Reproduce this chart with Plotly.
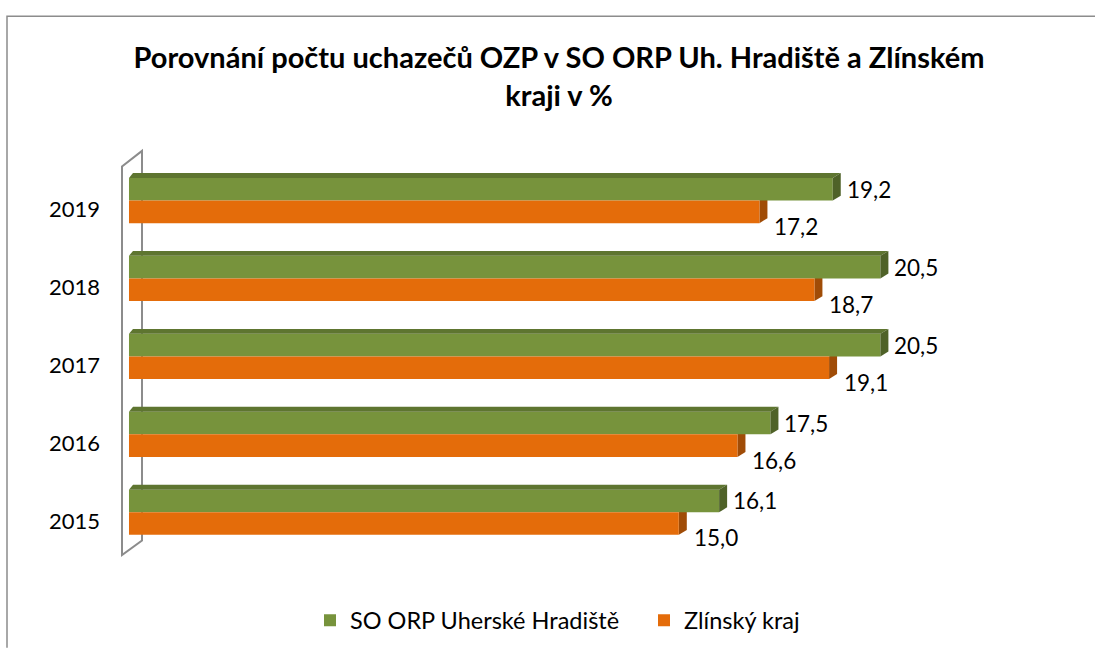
import plotly.graph_objects as go

# ---- data ----
years = ["2015", "2016", "2017", "2018", "2019"]
uh_values = [16.1, 17.5, 20.5, 20.5, 19.2]        # SO ORP Uherské Hradiště
zlin_values = [15.0, 16.6, 19.1, 18.7, 17.2]      # Zlínský kraj
series_names = ["SO ORP Uherské Hradiště", "Zlínský kraj"]
title_text = "Porovnání počtu uchazečů OZP v SO ORP Uh. Hradiště a Zlínském<br>kraji v %"

def fmt(v):
    return f"{v:.1f}".replace(".", ",")

# ---- layout geometry ----
W, H = 1095, 655
L, R, T, B = 107, 35, 146, 86
XR = [-0.6, 25.4]
YR = [-0.6, 4.7]
PW, PH = W - L - R, H - T - B
xpx = PW / (XR[1] - XR[0])
ypx = PH / (YR[1] - YR[0])

def px2paper_x(px):
    return (px - L) / PW

def px2paper_y(py):
    return (H - B - py) / PH

GREEN = "#77933C"
GREEN_TOP = "#5E7530"
GREEN_SIDE = "#4F6228"
ORANGE = "#E46C0A"
ORANGE_SIDE = "#A04C07"

bw = 0.29           # bar thickness (y units)
dx = 8 / xpx        # 3D depth in x units
dy = 5 / ypx        # 3D depth in y units
pos = list(range(len(years)))

fig = go.Figure()
fig.add_trace(go.Bar(
    y=pos, x=uh_values, orientation="h", name=series_names[0],
    marker=dict(color=GREEN, line=dict(width=0)),
    offset=0, width=bw, hoverinfo="x",
))
fig.add_trace(go.Bar(
    y=pos, x=zlin_values, orientation="h", name=series_names[1],
    marker=dict(color=ORANGE, line=dict(width=0)),
    offset=-bw, width=bw, hoverinfo="x",
))

LABEL_FONT = dict(family="Lato", size=22.5, color="#000000")

shapes = []
annotations = []
for i, (g, o) in enumerate(zip(uh_values, zlin_values)):
    # green top face
    shapes.append(dict(type="path", xref="x", yref="y", layer="above",
                       path=f"M 0,{i+bw} L {g},{i+bw} L {g+dx},{i+bw+dy} L {dx*0.5},{i+bw+dy} Z",
                       fillcolor=GREEN_TOP, line=dict(width=0)))
    # green side face
    shapes.append(dict(type="path", xref="x", yref="y", layer="above",
                       path=f"M {g},{i+bw} L {g+dx},{i+bw+dy} L {g+dx},{i+dy} L {g},{i} Z",
                       fillcolor=GREEN_SIDE, line=dict(width=0)))
    # orange side face (behind the green bar)
    shapes.append(dict(type="path", xref="x", yref="y", layer="below",
                       path=f"M {o},{i} L {o+dx},{i+dy} L {o+dx},{i-bw+dy} L {o},{i-bw} Z",
                       fillcolor=ORANGE_SIDE, line=dict(width=0)))
    annotations.append(dict(x=g, y=i + bw / 2, xref="x", yref="y", text=fmt(g),
                            showarrow=False, xanchor="left", yanchor="middle", xshift=12,
                            font=LABEL_FONT))
    annotations.append(dict(x=o, y=i - 0.33, xref="x", yref="y", text=fmt(o),
                            showarrow=False, xanchor="left", yanchor="middle", xshift=13,
                            font=LABEL_FONT))

# 3D wall on the left
wall = [(122, 565), (122, 167), (142, 151), (142, 550)]
wpath = "M " + " L ".join(f"{px2paper_x(a)},{px2paper_y(b)}" for a, b in wall) + " Z"
shapes.append(dict(type="path", xref="paper", yref="paper", layer="below",
                   path=wpath, line=dict(color="#8C8C8C", width=2)))

# chart outer border (top and left edges visible)
bpath = (f"M {px2paper_x(7)},{px2paper_y(H + 5)} L {px2paper_x(7)},{px2paper_y(13)} "
         f"L {px2paper_x(W + 5)},{px2paper_y(13)}")
shapes.append(dict(type="path", xref="paper", yref="paper", layer="below",
                   path=bpath, line=dict(color="#8C8C8C", width=1.5)))

fig.update_layout(
    width=W, height=H,
    margin=dict(l=L, r=R, t=T, b=B),
    paper_bgcolor="white", plot_bgcolor="rgba(0,0,0,0)",
    barmode="overlay",
    title=dict(text=title_text, x=559 / W, xanchor="center", xref="container",
               y=1 - 68 / H, yanchor="middle", yref="container",
               font=dict(family="Lato", size=29, color="#000000", weight="bold")),
    xaxis=dict(range=XR, visible=False, fixedrange=True),
    yaxis=dict(range=YR, tickmode="array", tickvals=[p - 0.11 for p in pos], ticktext=years,
               showgrid=False, zeroline=False, showline=False, ticks="",
               ticklabelstandoff=6,
               tickfont=dict(family="Lato", size=22, color="#000000"), fixedrange=True),
    legend=dict(orientation="h", x=px2paper_x(644), xanchor="center",
                y=px2paper_y(632), yanchor="middle",
                font=dict(family="Lato", size=23.5, color="#000000"),
                entrywidth=289, entrywidthmode="pixels",
                traceorder="normal"),
    shapes=shapes,
    annotations=annotations,
    showlegend=True,
)

fig.write_html("out.html", post_script="document.body.style.margin='0';",
               config={"displayModeBar": False})
